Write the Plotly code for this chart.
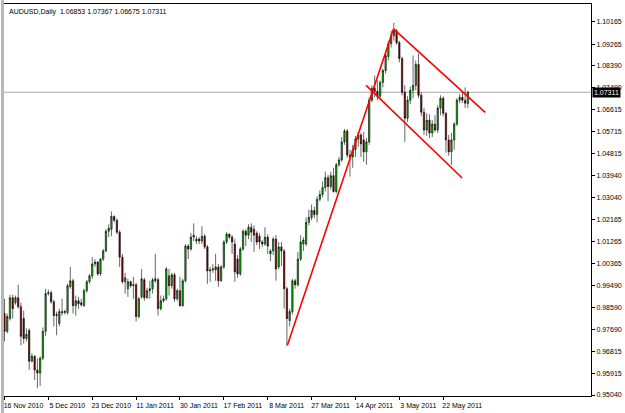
import plotly.graph_objects as go

bar_index = list(range(170))

opens = [0.9834,0.9762,0.9814,0.9898,0.9878,0.9898,0.9862,0.9814,0.9733,0.9766,
0.9641,0.9661,0.9605,0.9593,0.9653,0.9762,0.9915,0.9919,0.9882,0.9826,
0.9794,0.9842,0.9838,0.9838,0.9943,0.9967,0.9866,0.9886,0.9878,0.9866,
0.9927,0.9963,0.9987,1.0035,1.0043,0.9995,1.0055,1.0088,1.0168,1.0176,
1.0228,1.0212,1.0164,1.0063,0.9963,0.9935,0.9963,0.9947,0.9951,0.9822,
0.9902,0.9971,0.9898,0.9927,0.9935,0.9967,0.9971,0.9854,0.9886,0.9894,
0.9987,0.9947,0.9991,0.9894,0.9927,0.9866,0.9967,1.0108,1.0096,1.0144,
1.0128,1.0136,1.0128,1.0148,1.0104,1.0007,1.0011,1.0011,1.0023,0.9967,
1.0023,1.0124,1.0156,1.0144,1.0116,1.0055,0.9995,1.0096,1.0168,1.0152,
1.0184,1.0176,1.0160,1.0148,1.0124,1.0116,1.0144,1.0076,1.0088,1.0136,
1.0023,1.0104,1.0088,0.9935,0.9806,0.9842,0.9967,0.9951,1.0055,1.0116,
1.0116,1.0204,1.0224,1.0252,1.0236,1.0297,1.0317,1.0345,1.0385,1.0349,
1.0393,1.0329,1.0437,1.0457,1.0530,1.0574,1.0477,1.0469,1.0498,1.0542,
1.0558,1.0538,1.0490,1.0530,1.0699,1.0747,1.0735,1.0715,1.0771,1.0819,
1.0876,1.0928,1.0960,1.0980,1.0932,1.0868,1.0731,1.0626,1.0699,1.0739,
1.0759,1.0844,1.0719,1.0650,1.0578,1.0618,1.0566,1.0602,1.0578,1.0667,
1.0707,1.0646,1.0538,1.0490,1.0538,1.0602,1.0699,1.0711,1.0699,1.06853]

highs = [0.9894,0.9834,0.9911,0.9911,0.9907,0.9951,0.9878,0.9846,0.9774,0.9774,
0.9673,0.9665,0.9653,0.9661,0.9778,0.9935,0.9931,0.9927,0.9890,0.9842,
0.9854,0.9894,0.9850,0.9955,1.0023,0.9975,0.9907,0.9902,0.9894,0.9935,
0.9971,0.9995,1.0063,1.0055,1.0047,1.0059,1.0096,1.0176,1.0196,1.0248,
1.0232,1.0220,1.0172,1.0076,0.9999,0.9975,0.9967,0.9983,0.9959,0.9902,
1.0015,0.9979,0.9939,0.9967,0.9979,1.0076,0.9979,0.9907,0.9907,1.0023,
1.0015,0.9999,0.9999,0.9935,0.9983,0.9975,1.0116,1.0116,1.0160,1.0200,
1.0148,1.0144,1.0188,1.0156,1.0112,1.0023,1.0035,1.0076,1.0035,1.0031,
1.0132,1.0164,1.0160,1.0152,1.0136,1.0071,1.0104,1.0176,1.0176,1.0196,
1.0200,1.0192,1.0168,1.0160,1.0132,1.0184,1.0156,1.0096,1.0144,1.0152,
1.0124,1.0124,1.0096,0.9943,0.9854,0.9975,0.9975,1.0084,1.0152,1.0144,
1.0224,1.0256,1.0276,1.0268,1.0309,1.0333,1.0369,1.0409,1.0397,1.0409,
1.0425,1.0445,1.0469,1.0550,1.0582,1.0582,1.0498,1.0518,1.0554,1.0570,
1.0566,1.0570,1.0546,1.0711,1.0759,1.0799,1.0779,1.0779,1.0827,1.0892,
1.0940,1.0980,1.1013,1.0988,1.0940,1.0876,1.0759,1.0715,1.0755,1.0880,
1.0860,1.0888,1.0731,1.0667,1.0646,1.0642,1.0618,1.0638,1.0679,1.0719,
1.0715,1.0650,1.0558,1.0566,1.0610,1.0707,1.0723,1.0735,1.0751,1.07367]

lows = [0.9721,0.9754,0.9806,0.9814,0.9870,0.9854,0.9705,0.9713,0.9721,0.9605,
0.9637,0.9565,0.9532,0.9541,0.9645,0.9742,0.9907,0.9874,0.9782,0.9746,
0.9782,0.9826,0.9830,0.9830,0.9935,0.9834,0.9826,0.9854,0.9862,0.9862,
0.9919,0.9955,0.9975,1.0023,0.9987,0.9987,1.0047,1.0084,1.0144,1.0148,
1.0204,1.0156,1.0023,0.9955,0.9915,0.9902,0.9939,0.9894,0.9802,0.9814,
0.9894,0.9886,0.9894,0.9894,0.9915,0.9959,0.9826,0.9846,0.9878,0.9886,
0.9907,0.9935,0.9882,0.9886,0.9862,0.9862,0.9959,1.0055,1.0088,1.0128,
1.0116,1.0116,1.0116,1.0096,0.9955,0.9963,0.9999,0.9967,0.9943,0.9963,
1.0015,1.0116,1.0136,1.0076,0.9963,0.9979,0.9987,1.0088,1.0108,1.0136,
1.0124,1.0084,1.0112,1.0096,1.0104,1.0108,1.0076,1.0047,1.0072,0.9967,
1.0015,1.0027,0.9854,0.9701,0.9782,0.9830,0.9935,0.9943,1.0047,1.0088,
1.0108,1.0192,1.0212,1.0220,1.0204,1.0289,1.0305,1.0329,1.0289,1.0337,
1.0325,1.0321,1.0429,1.0449,1.0518,1.0465,1.0389,1.0425,1.0469,1.0510,
1.0469,1.0449,1.0437,1.0518,1.0691,1.0711,1.0699,1.0707,1.0751,1.0807,
1.0860,1.0912,1.0940,1.0924,1.0852,1.0719,1.0530,1.0610,1.0683,1.0707,
1.0739,1.0707,1.0634,1.0558,1.0554,1.0546,1.0550,1.0570,1.0566,1.0638,
1.0634,1.0486,1.0474,1.0437,1.0498,1.0594,1.0687,1.0687,1.0667,1.06675]

closes = [0.9762,0.9822,0.9898,0.9854,0.9898,0.9862,0.9742,0.9733,0.9750,0.9641,
0.9661,0.9605,0.9593,0.9653,0.9762,0.9915,0.9919,0.9882,0.9826,0.9830,
0.9842,0.9838,0.9842,0.9947,0.9967,0.9866,0.9886,0.9874,0.9870,0.9927,
0.9963,0.9987,1.0035,1.0043,0.9995,1.0055,1.0088,1.0168,1.0180,1.0228,
1.0212,1.0164,1.0063,0.9963,0.9979,0.9963,0.9947,0.9951,0.9822,0.9894,
0.9975,0.9898,0.9927,0.9935,0.9971,0.9975,0.9854,0.9886,0.9894,1.0015,
0.9947,0.9991,0.9894,0.9927,0.9866,0.9967,1.0108,1.0096,1.0144,1.0152,
1.0136,1.0128,1.0148,1.0104,1.0007,1.0011,1.0015,1.0023,0.9967,1.0023,
1.0124,1.0156,1.0144,1.0124,1.0003,0.9995,1.0096,1.0168,1.0152,1.0184,
1.0164,1.0152,1.0124,1.0124,1.0116,1.0144,1.0108,1.0088,1.0136,1.0015,
1.0104,1.0088,0.9935,0.9814,0.9842,0.9967,0.9951,1.0055,1.0124,1.0132,
1.0204,1.0224,1.0252,1.0236,1.0297,1.0317,1.0345,1.0385,1.0349,1.0393,
1.0329,1.0437,1.0457,1.0530,1.0574,1.0477,1.0469,1.0498,1.0542,1.0558,
1.0522,1.0490,1.0530,1.0699,1.0747,1.0735,1.0715,1.0771,1.0819,1.0880,
1.0928,1.0960,1.0980,1.0932,1.0868,1.0731,1.0626,1.0699,1.0739,1.0759,
1.0844,1.0719,1.0650,1.0578,1.0618,1.0566,1.0602,1.0578,1.0667,1.0707,
1.0646,1.0538,1.0490,1.0538,1.0602,1.0699,1.0711,1.0699,1.0687,1.07311]

date_tick_bars = [0, 16, 32, 48, 64, 80, 96, 112, 128, 144, 160]
date_tick_labels = ["16 Nov 2010", "5 Dec 2010", "23 Dec 2010", "11 Jan 2011", "30 Jan 2011",
                    "17 Feb 2011", "8 Mar 2011", "27 Mar 2011", "14 Apr 2011", "3 May 2011",
                    "22 May 2011"]

price_ticks = [1.10165, 1.09265, 1.08390, 1.07490, 1.06615, 1.05715, 1.04815, 1.03940, 1.03040,
               1.02165, 1.01265, 1.00365, 0.99490, 0.98590, 0.97690, 0.96815, 0.95915, 0.95040]
price_tick_labels = ["1.10165", "1.09265", "1.08390", "1.07490", "1.06615", "1.05715", "1.04815",
                     "1.03940", "1.03040", "1.02165", "1.01265", "1.00365", "0.99490", "0.98590",
                     "0.97690", "0.96815", "0.95915", "0.95040"]

last_price = 1.07311
title_text = "AUDUSD,Daily  1.06853 1.07367 1.06675 1.07311"

# hand-drawn trend lines (bar index, price)
rise_x = [103.2, 141.9]
rise_y = [0.97065, 1.09883]
upper_x = [141.9, 175.3]
upper_y = [1.09883, 1.06493]
lower_x = [131.9, 166.9]
lower_y = [1.07591, 1.03838]

FONT = "Liberation Sans, Arial, sans-serif"

fig = go.Figure()
fig.add_trace(go.Candlestick(
    x=bar_index, open=opens, high=highs, low=lows, close=closes,
    increasing=dict(line=dict(color="#000000", width=0.6), fillcolor="#00c000"),
    decreasing=dict(line=dict(color="#000000", width=0.6), fillcolor="#8b0000"),
    whiskerwidth=0, hoverinfo="skip", showlegend=False,
))
for lx, ly in ((rise_x, rise_y), (upper_x, upper_y), (lower_x, lower_y)):
    fig.add_trace(go.Scatter(x=lx, y=ly, mode="lines", line=dict(color="#ff0000", width=1.6),
                             hoverinfo="skip", showlegend=False))

fig.add_shape(type="line", xref="paper", x0=0, x1=1, yref="y", y0=last_price, y1=last_price,
              line=dict(color="#a8a8a8", width=1), layer="below")
fig.add_shape(type="rect", xref="paper", yref="paper", x0=-3/593, x1=0, y0=-0.05, y1=1.01,
              fillcolor="#b8b8b8", line=dict(width=0))

fig.add_annotation(xref="paper", yref="paper", x=0, y=1, xshift=3, yshift=-2,
                   xanchor="left", yanchor="top", text=title_text, showarrow=False,
                   font=dict(family=FONT, size=7, color="#000000"))
fig.add_annotation(xref="paper", yref="y", x=1, y=last_price, xanchor="left", yanchor="middle",
                   xshift=1, text=f"{last_price:.5f}", showarrow=False, bgcolor="#000000",
                   borderpad=1, font=dict(family=FONT, size=7, color="#ffffff"))

fig.update_layout(
    width=625, height=413,
    margin=dict(l=3, r=29, t=3, b=15),
    paper_bgcolor="#ffffff", plot_bgcolor="#ffffff",
    showlegend=False, hovermode=False,
    font=dict(family=FONT, size=7, color="#000000"),
    xaxis=dict(range=[-0.18, 213.9], rangeslider=dict(visible=False), showgrid=False,
               zeroline=False, tickmode="array", tickvals=date_tick_bars,
               ticktext=date_tick_labels, ticks="outside", ticklen=3, tickcolor="#000000",
               ticklabelshift=19, showline=True, linecolor="#000000", linewidth=1, mirror=True,
               tickfont=dict(family=FONT, size=7, color="#000000")),
    yaxis=dict(range=[0.95000, 1.10889], side="right", showgrid=False, zeroline=False,
               tickmode="array", tickvals=price_ticks, ticktext=price_tick_labels,
               ticks="outside", ticklen=3, tickcolor="#000000", showline=True,
               linecolor="#000000", linewidth=1, mirror=True,
               tickfont=dict(family=FONT, size=7, color="#000000")),
)

fig.write_html("out.html")
